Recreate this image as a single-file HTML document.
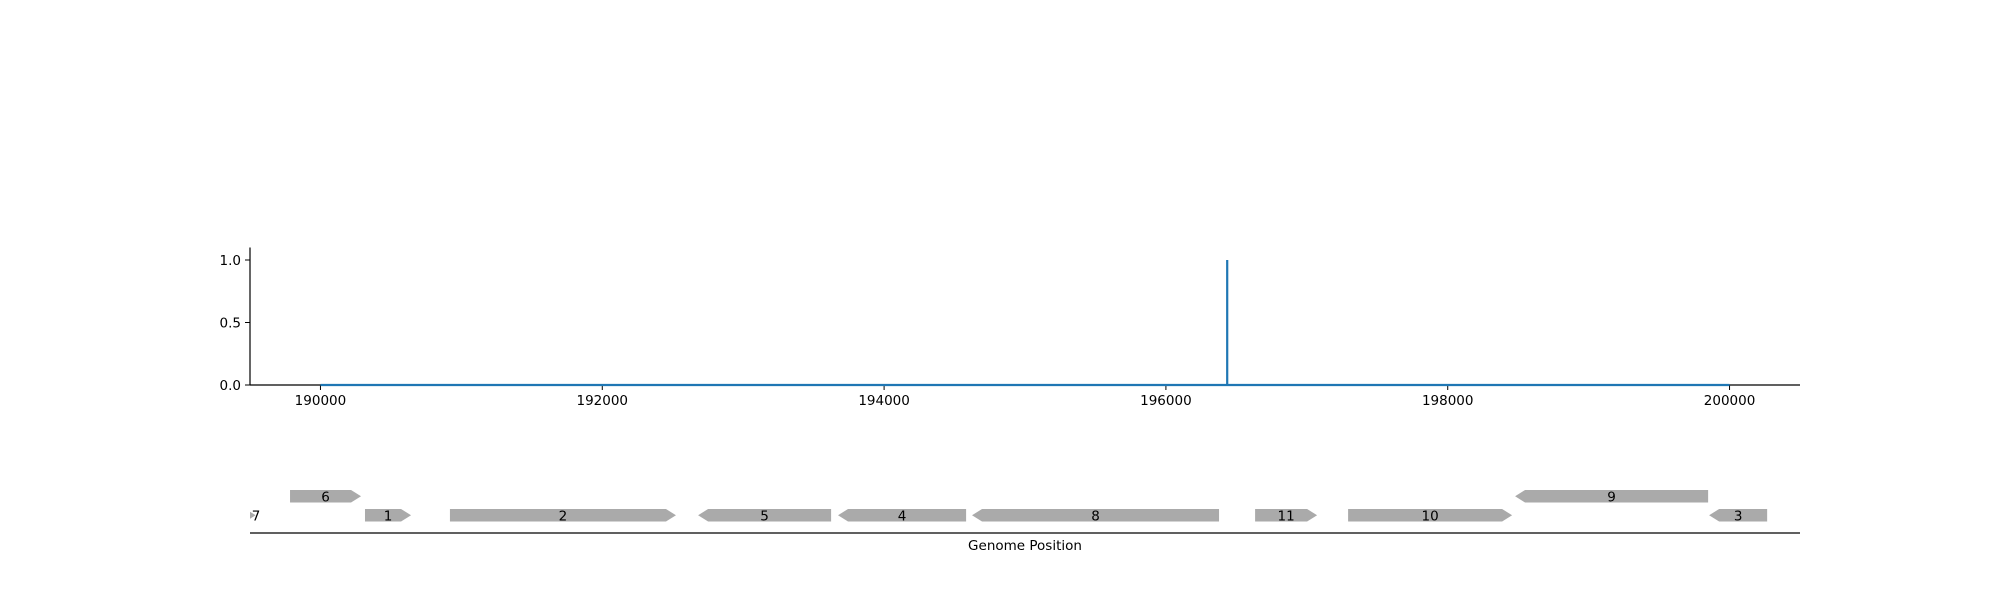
<!DOCTYPE html>
<html><head><meta charset="utf-8"><style>
body{margin:0;background:#fff}
svg text{font-family:"DejaVu Sans","Liberation Sans",sans-serif;font-size:13.5px;fill:#000}
</style></head><body>
<svg id="chart" width="2000" height="600" xmlns="http://www.w3.org/2000/svg">
<g id="plot"></g>
<g id="track"></g>
</svg>
<script>
const positions=[190000,196435,196435,196435,200000];
const values=[0,0,1,0,0];
const xTicks=[190000,192000,194000,196000,198000,200000];
const yTicks=[0,0.5,1.0];
const yTickLabels=["0.0","0.5","1.0"];
const geneNames=["7","6","1","2","5","4","8","11","10","9","3"];
const geneStarts=[189400,189784,190316,190919,192680,193673,194624,196633,197293,198478,199855];
const geneEnds=[189540,190288,190643,192523,193624,194582,196377,197073,198457,199848,200267];
const geneStrand=[1,1,1,1,-1,-1,-1,1,1,-1,-1];
const geneRow=[0,1,0,0,0,0,0,0,0,1,0];

const NS="http://www.w3.org/2000/svg";
const X0=250,X1=1800,D0=189500,D1=200500;
const x=v=>X0+(v-D0)/(D1-D0)*(X1-X0);
const Y0=385,Y1=260;
const y=v=>Y0+(Y1-Y0)*v;
function mk(tag,attrs,parent){const e=document.createElementNS(NS,tag);for(const k in attrs)e.setAttribute(k,attrs[k]);parent.appendChild(e);return e;}
const plot=document.getElementById('plot'),track=document.getElementById('track');

let a=mk('line',{x1:X0,y1:Y0,x2:X1,y2:Y0,stroke:'#000','stroke-width':1.2},plot);


a=mk('line',{x1:X0,y1:y(1.1),x2:X0,y2:Y0,stroke:'#000','stroke-width':1.2},plot);


xTicks.forEach(t=>{
 const l=mk('line',{x1:x(t),y1:Y0,x2:x(t),y2:Y0+5,stroke:'#000'},plot);
 
 
 const tx=mk('text',{x:x(t),y:Y0+20,'text-anchor':'middle'},plot);tx.textContent=t;
 
 
});
yTicks.forEach((t,i)=>{
 const l=mk('line',{x1:X0-5,y1:y(t),x2:X0,y2:y(t),stroke:'#000'},plot);
 
 
 const tx=mk('text',{x:X0-9,y:y(t)+5,'text-anchor':'end'},plot);tx.textContent=yTickLabels[i];
 
 
});
const pts=positions.map((p,i)=>x(p)+','+y(values[i])).join(' ');
const ln=mk('polyline',{points:pts,fill:'none',stroke:'#1f77b4','stroke-width':2.2},plot);



const clip=mk('clipPath',{id:'tc'},track);mk('rect',{x:X0,y:470,width:X1-X0,height:70},clip);
const gg=mk('g',{'clip-path':'url(#tc)'},track);
const rowY=[509,490],H=12.5,TIP=10;
geneNames.forEach((n,i)=>{
 const s=x(geneStarts[i]),e=x(geneEnds[i]),t=rowY[geneRow[i]],b=t+H,m=t+H/2;
 let p;
 if(geneStrand[i]>0)p=`${s},${t} ${e-TIP},${t} ${e},${m} ${e-TIP},${b} ${s},${b}`;
 else p=`${s+TIP},${t} ${e},${t} ${e},${b} ${s+TIP},${b} ${s},${m}`;
 const g=mk('polygon',{points:p,fill:'#aaaaaa'},gg);
 
 
 const tx=mk('text',{x:Math.max((s+e)/2,256),y:m+5,'text-anchor':'middle'},track);tx.textContent=n;
 
 
});
a=mk('line',{x1:X0,y1:533,x2:X1,y2:533,stroke:'#000','stroke-width':1.2},track);


const gl=mk('text',{x:1025,y:550,'text-anchor':'middle'},track);gl.textContent='Genome Position';


</script>
</body></html>
